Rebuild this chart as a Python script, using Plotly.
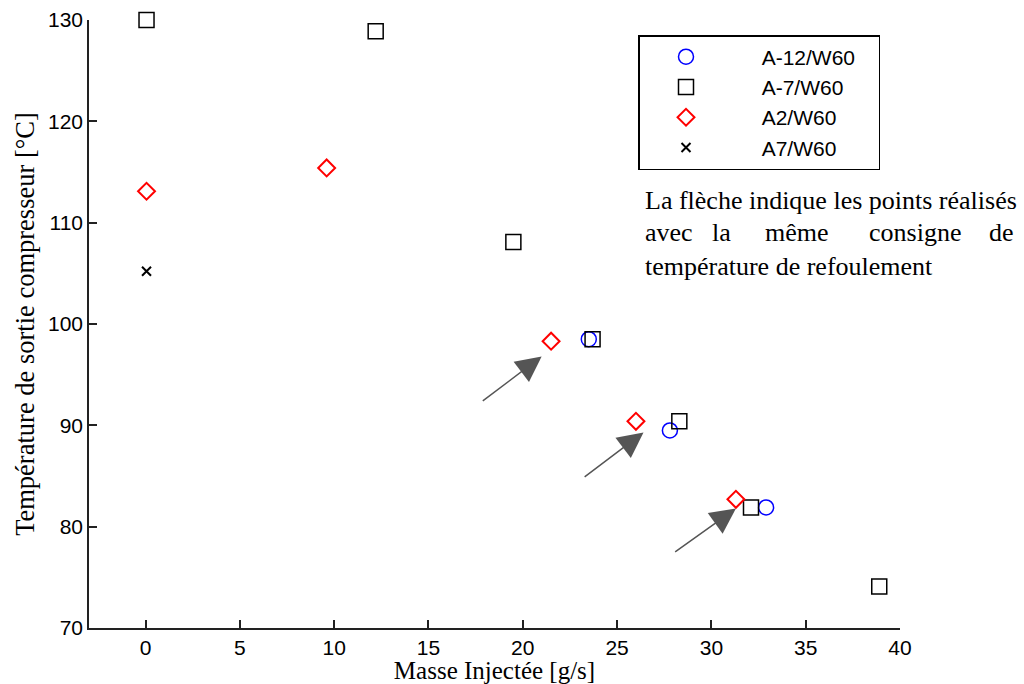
import plotly.graph_objects as go

# Injected mass flow [g/s] and compressor discharge temperature [°C] per operating point
a12_mass = [23.5, 27.8, 32.9]
a12_temp = [98.5, 89.5, 81.9]

a7m_mass = [0.05, 12.2, 19.5, 23.7, 28.3, 32.1, 38.9]
a7m_temp = [130.0, 128.9, 108.1, 98.5, 90.4, 81.9, 74.1]

a2_mass = [0.05, 9.6, 21.5, 26.0, 31.3]
a2_temp = [113.1, 115.4, 98.3, 90.4, 82.7]

a7_mass = [0.05]
a7_temp = [105.2]

# Arrows pointing at points with the same discharge temperature set-point (tail -> head)
arrow_tail_x = [17.8, 23.2, 28.0]
arrow_tail_y = [92.3, 84.8, 77.4]
arrow_head_x = [21.0, 26.4, 31.3]
arrow_head_y = [96.8, 89.3, 81.8]

x_ticks = [0, 5, 10, 15, 20, 25, 30, 35, 40]
y_ticks = [70, 80, 90, 100, 110, 120, 130]

W, H = 1024, 684
M_L, M_R, M_T, M_B = 89, 124, 20, 56
PW, PH = W - M_L - M_R, H - M_T - M_B


def paper_x(px):
    return (px - M_L) / PW


def paper_y(py):
    return (H - M_B - py) / PH


SANS = "Liberation Sans, Arial, sans-serif"
SERIF = "Liberation Serif, Times New Roman, serif"
PAD = "\u00a0" * 5
TAIL = "\u00a0" * 3

fig = go.Figure()
fig.add_trace(go.Scatter(
    x=a12_mass, y=a12_temp, mode="markers", name=PAD + "A-12/W60" + TAIL,
    marker=dict(symbol="circle-open", size=15, color="#0000ff", line=dict(width=1.5)),
    cliponaxis=False))
fig.add_trace(go.Scatter(
    x=a7m_mass, y=a7m_temp, mode="markers", name=PAD + "A-7/W60",
    marker=dict(symbol="square-open", size=15, color="#000000", line=dict(width=1.5)),
    cliponaxis=False))
fig.add_trace(go.Scatter(
    x=a2_mass, y=a2_temp, mode="markers", name=PAD + "A2/W60",
    marker=dict(symbol="diamond-open", size=13, color="#ff0000", line=dict(width=2)),
    cliponaxis=False))
fig.add_trace(go.Scatter(
    x=a7_mass, y=a7_temp, mode="markers", name=PAD + "A7/W60",
    marker=dict(symbol="x-thin-open", size=9, color="#000000", line=dict(width=2)),
    cliponaxis=False))

for tx, ty, hx, hy in zip(arrow_tail_x, arrow_tail_y, arrow_head_x, arrow_head_y):
    fig.add_annotation(
        x=hx, y=hy, ax=tx, ay=ty, xref="x", yref="y", axref="x", ayref="y",
        text="", showarrow=True, arrowhead=2, arrowsize=3.4, arrowwidth=1.5,
        arrowcolor="#555555")

# Explanatory note (second line justified word by word)
note_font = dict(family=SERIF, size=26, color="#000000")
fig.add_annotation(x=paper_x(643), y=paper_y(200), xref="paper", yref="paper",
                   text="La flèche indique les points réalisés", showarrow=False,
                   xanchor="left", yanchor="middle", font=note_font)
for word, wx in zip(["avec", "la", "même", "consigne", "de"], [643, 710, 763, 867, 987]):
    fig.add_annotation(x=paper_x(wx), y=paper_y(233), xref="paper", yref="paper",
                       text=word, showarrow=False, xanchor="left", yanchor="middle",
                       font=note_font)
fig.add_annotation(x=paper_x(643), y=paper_y(266), xref="paper", yref="paper",
                   text="température de refoulement", showarrow=False,
                   xanchor="left", yanchor="middle", font=note_font)

axis_common = dict(
    showline=True, linecolor="#222222", linewidth=1.5, mirror=False,
    ticks="inside", ticklen=8, tickwidth=1.5, tickcolor="#222222",
    showgrid=False, zeroline=False, automargin=False,
    tickfont=dict(family=SANS, size=21, color="#000000"),
)

fig.update_layout(
    width=W, height=H,
    margin=dict(l=M_L, r=M_R, t=M_T, b=M_B),
    paper_bgcolor="white", plot_bgcolor="white",
    xaxis=dict(range=[-3, 40], tickvals=x_ticks,
               title=dict(text="Masse Injectée [g/s]", standoff=8,
                          font=dict(family=SERIF, size=25, color="#000000")),
               **axis_common),
    yaxis=dict(range=[70, 130], tickvals=y_ticks,
               title=dict(text="Température de sortie compresseur [°C]", standoff=6,
                          font=dict(family=SERIF, size=26.5, color="#000000")),
               **axis_common),
    legend=dict(x=paper_x(638), y=paper_y(35), xanchor="left", yanchor="top",
                bordercolor="#000000", borderwidth=1.5, bgcolor="white",
                itemwidth=83, font=dict(family=SANS, size=21, color="#000000"),
                tracegroupgap=0),
    showlegend=True,
)

fig.write_html("out.html")
